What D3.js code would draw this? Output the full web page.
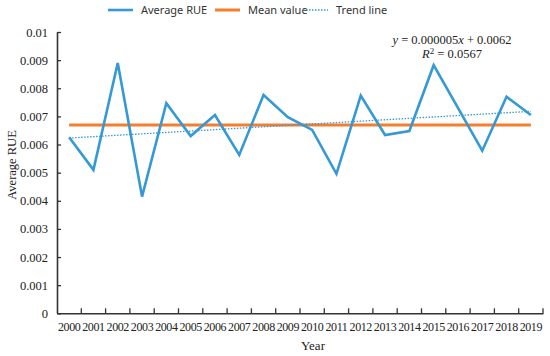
<!DOCTYPE html>
<html>
<head>
<meta charset="utf-8">
<script src="https://cdn.jsdelivr.net/npm/d3@7"></script>
<style>
  body { margin: 0; background: #fff; }
  svg { display: block; }
  .serif { font-family: 'Liberation Serif', 'Times New Roman', serif; }
</style>
</head>
<body>
<div id="chart"></div>
<script>
// Data
const years = ['2000','2001','2002','2003','2004','2005','2006','2007','2008','2009',
               '2010','2011','2012','2013','2014','2015','2016','2017','2018','2019'];
const avgRUE = [0.00626, 0.0051, 0.0089, 0.00415, 0.00747, 0.0063, 0.00705, 0.00563, 0.00776, 0.00697,
                0.00652, 0.00496, 0.00774, 0.00634, 0.00648, 0.00882, 0.0073, 0.00578, 0.0077, 0.00705];
const meanValue = 0.00669;
const trendEnds = [0.00623, 0.00718];   // trend line at first and last year
const yTicks = [0, 0.001, 0.002, 0.003, 0.004, 0.005, 0.006, 0.007, 0.008, 0.009, 0.01];

const width = 550, height = 356;
const margin = { top: 32, right: 7, bottom: 43, left: 57 };

const blue = '#3499d4';
const orange = '#f57d2b';
const axisColor = '#333';

const svg = d3.select('#chart').append('svg')
    .attr('width', width)
    .attr('height', height);

const x = d3.scaleBand()
    .domain(years)
    .range([margin.left, width - margin.right]);

const y = d3.scaleLinear()
    .domain([0, 0.01])
    .range([height - margin.bottom + 0.3, margin.top]);

const cx = d => x(d) + x.bandwidth() / 2;

// Axes
const yAxis = svg.append('g')
    .attr('transform', `translate(${margin.left},0)`)
    .call(d3.axisLeft(y).tickValues(yTicks).tickSizeInner(-4).tickSizeOuter(0)
        .tickFormat(d => d === 0 ? '0' : String(+d.toFixed(3))));
yAxis.attr('font-family', null).attr('font-size', null);
yAxis.select('.domain').attr('stroke', axisColor).attr('stroke-width', 1.6);
yAxis.selectAll('.tick line').attr('stroke', axisColor).attr('stroke-width', 1.3);
yAxis.selectAll('.tick text')
    .attr('x', -9)
    .attr('class', 'serif')
    .style('font-size', '12.5px')
    .attr('fill', '#222');

const xAxis = svg.append('g')
    .attr('transform', `translate(0,${y(0)})`)
    .call(d3.axisBottom(x).tickSize(0).tickSizeOuter(0));
xAxis.attr('font-family', null).attr('font-size', null);
xAxis.select('.domain').attr('stroke', axisColor).attr('stroke-width', 1.6);
xAxis.selectAll('.tick text')
    .attr('y', 9)
    .attr('class', 'serif')
    .style('font-size', '12px')
    .attr('letter-spacing', -0.4)
    .attr('fill', '#222');

// x tick marks sit on band edges, pointing up
const edges = years.map(d => x(d)).concat([x(years[years.length - 1]) + x.bandwidth()]);
xAxis.selectAll('.edge')
    .data(edges.slice(1))
    .enter()
    .append('line')
    .attr('x1', d => d).attr('x2', d => d)
    .attr('y1', 0).attr('y2', -5)
    .attr('stroke', axisColor)
    .attr('stroke-width', 1.3);

// Axis titles
svg.append('text')
    .attr('class', 'serif')
    .attr('x', 313)
    .attr('y', 350)
    .attr('text-anchor', 'middle')
    .style('font-size', '13px')
    .attr('fill', '#222')
    .text('Year');

svg.append('text')
    .attr('class', 'serif')
    .attr('transform', 'translate(16,165) rotate(-90)')
    .attr('text-anchor', 'middle')
    .style('font-size', '12.5px')
    .attr('fill', '#222')
    .text('Average RUE');

// Mean value line
svg.append('line')
    .attr('x1', cx(years[0]))
    .attr('x2', cx(years[years.length - 1]))
    .attr('y1', y(meanValue))
    .attr('y2', y(meanValue))
    .attr('stroke', orange)
    .attr('stroke-width', 3);

// Trend line
svg.append('line')
    .attr('x1', cx(years[0]))
    .attr('x2', cx(years[years.length - 1]))
    .attr('y1', y(trendEnds[0]))
    .attr('y2', y(trendEnds[1]))
    .attr('stroke', blue)
    .attr('stroke-width', 1.3)
    .attr('stroke-dasharray', '1.5,1.5');

// Average RUE line
const line = d3.line()
    .x((d, i) => cx(years[i]))
    .y(d => y(d));

svg.append('path')
    .datum(avgRUE)
    .attr('d', line)
    .attr('fill', 'none')
    .attr('stroke', blue)
    .attr('stroke-width', 2.6)
    .attr('stroke-linejoin', 'miter');

// Equation
const eq = svg.append('g')
    .attr('class', 'serif')
    .style('font-size', '12.5px')
    .attr('fill', '#222')
    .attr('text-anchor', 'middle');
const eq1 = eq.append('text').attr('x', 452).attr('y', 44);
eq1.append('tspan').attr('font-style', 'italic').text('y');
eq1.append('tspan').text(' = 0.000005');
eq1.append('tspan').attr('font-style', 'italic').text('x');
eq1.append('tspan').text(' + 0.0062');
const eq2 = eq.append('text').attr('x', 452).attr('y', 58);
eq2.append('tspan').attr('font-style', 'italic').text('R');
eq2.append('tspan').attr('font-size', 9).attr('dy', -4).text('2');
eq2.append('tspan').attr('dy', 4).text(' = 0.0567');

// Legend
const legendItems = [
    { label: 'Average RUE', color: blue, width: 2.6, dash: null, x1: 108 },
    { label: 'Mean value', color: orange, width: 3, dash: null, x1: 215 },
    { label: 'Trend line', color: blue, width: 1.3, dash: '1.5,1.5', x1: 303 }
];
const legend = svg.append('g').attr('transform', 'translate(0,10)');
legendItems.forEach(item => {
    legend.append('line')
        .attr('x1', item.x1).attr('x2', item.x1 + 25)
        .attr('y1', 0).attr('y2', 0)
        .attr('stroke', item.color)
        .attr('stroke-width', item.width)
        .attr('stroke-dasharray', item.dash);
    legend.append('text')
        .attr('x', item.x1 + 33)
        .attr('y', 4)
        .attr('font-family', '"Noto Sans", "Open Sans", sans-serif')
        .attr('font-size', 11)
        .attr('fill', '#333')
        .text(item.label);
});
</script>
</body>
</html>
